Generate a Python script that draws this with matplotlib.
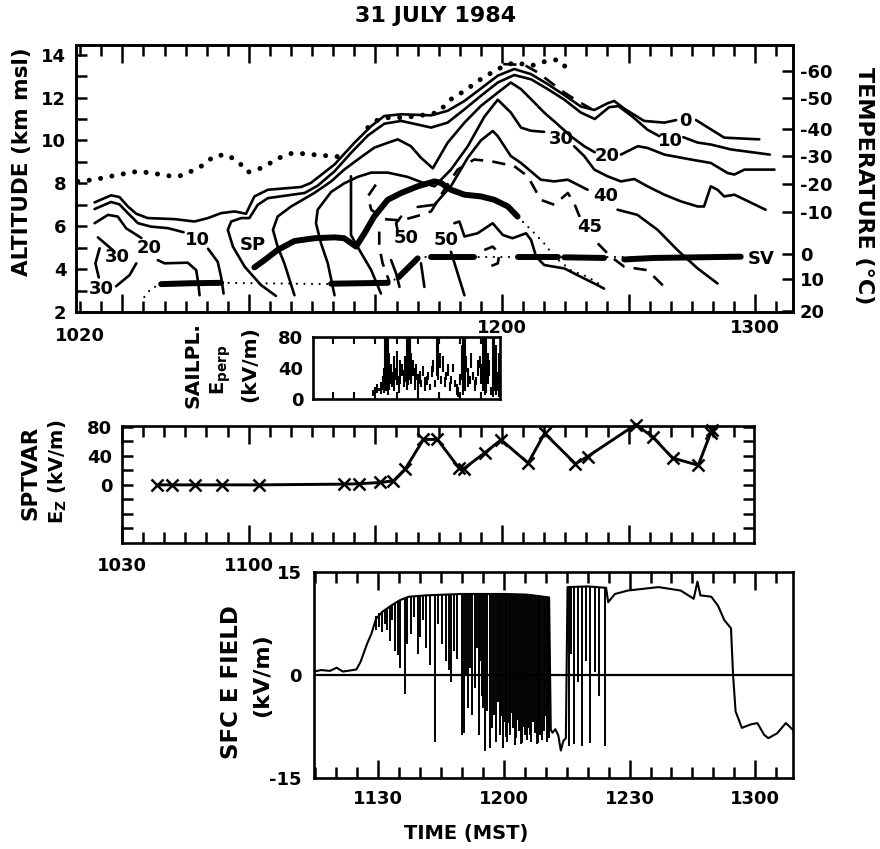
import numpy as np
import matplotlib
matplotlib.use("Agg")
import matplotlib.pyplot as plt
from matplotlib.ticker import FixedLocator, FixedFormatter, NullFormatter

plt.rcParams['font.family'] = ['DejaVu Sans']
plt.rcParams['font.weight'] = 'bold'
plt.rcParams['mathtext.default'] = 'bf'
plt.rcParams['axes.unicode_minus'] = False

# ------------------------------------------------------------------
# DATA  (time t = minutes after 1000 MST, alt = km MSL)
# ------------------------------------------------------------------
# radar reflectivity contours (dBZ), pieces as (t, alt)
c0_a = [(23.4,7.11),(27.3,7.44),(29.3,7.36),(31.3,6.92),(33.3,6.58),(36.0,6.38),(42.4,6.33),
        (47.1,6.22),(50.3,6.38),(53.4,6.61),(56.6,6.69),(59.3,6.58),(61.3,7.39),(64.5,7.70),
        (72.4,7.83),(74.7,8.02),(80.3,8.88),(85.0,9.89),(89.0,10.67),(92.1,11.14),(96.1,11.22),
        (103.2,11.17),(107.1,11.38),(111.1,11.84),(115.0,12.42),(119.0,13.02),(122.9,13.33),
        (126.9,13.09),(130.8,12.63),(134.8,12.11),(138.7,11.58),(141.9,11.42),(145.0,11.73),
        (146.6,11.84),(149.0,11.48),(153.7,10.91),(158.5,10.83),(161.3,10.95)]
c0_b = [(166.0,10.95),(169.5,10.52),(172.7,10.13),(181.0,10.05)]

c10_a = [(23.4,6.80),(27.3,7.13),(29.3,7.02),(31.3,6.61),(33.7,6.14),(36.8,5.98),(40.8,5.91),(44.5,5.72)]
c10_b = [(50.3,4.95),(52.6,4.34),(53.4,3.64),(54.0,2.86)]
c10_c = [(66.4,2.75),(62.9,3.25),(59.0,4.11),(56.2,5.05),(55.0,5.83),(55.8,6.22),(58.2,6.38),
         (60.1,6.38),(62.1,7.0),(64.5,7.31),(73.2,7.55),(76.3,7.89),(80.3,8.56),(84.2,9.42),
         (88.2,10.23),(92.1,10.78),(96.1,10.91),(103.2,10.6),(107.1,10.83),(111.1,11.45),
         (115.0,12.08),(119.0,12.70),(122.9,13.05),(126.9,12.85),(130.8,12.4),(134.8,11.9),
         (138.7,11.3),(142.0,11.0),(145.4,11.55),(147.6,11.6),(151.0,11.1),(154.5,10.5),(157.3,10.2)]
c10_d = [(163.0,10.15),(166.4,9.9),(169.5,9.81),(174.3,9.58),(183.5,9.34)]

c20_a = [(23.4,6.14),(26.6,6.53),(28.9,6.45),(30.9,5.9),(33.3,5.6),(34.5,5.45)]
c20_b = [(38.4,4.42),(40.0,4.27),(45.5,4.30),(47.5,3.95),(48.0,3.33),(48.3,2.78)]
c20_c = [(70.8,2.78),(68.4,4.27),(66.8,5.05),(65.7,5.83),(66.8,6.45),(70.0,6.92),(75.5,7.55),
         (79.5,8.09),(82.6,8.64),(85.8,9.11),(89.7,9.66),(92.9,9.89),(95.3,10.05),(98.4,9.73),
         (100.8,9.19),(103.6,8.70),(107.1,9.89),(111.1,10.83),(115.0,11.61),(119.0,12.23),
         (122.1,12.7),(124.5,12.39),(126.9,11.92),(130.0,11.30),(133.2,10.75),(136.3,10.2),
         (139.5,9.73),(142.0,9.45)]
c20_d = [(148.2,9.34),(152.2,9.73),(154.5,9.65),(158.5,9.34),(164.8,9.11),(169.5,8.95),
         (173.5,8.48),(175.1,8.41),(177.5,8.64),(184.6,8.64)]

c30_a = [(24.2,5.48),(27.7,4.89)]
c30_b = [(24.6,4.97),(23.6,4.27),(24.4,3.61)]
c30_c = [(33.3,4.27),(31.7,3.72),(28.5,3.20)]
c30_d = [(80.3,2.78),(78.7,4.27),(77.1,5.20),(75.9,6.14),(76.3,6.77),(79.5,7.6),(82.6,8.0),
         (85.8,8.3),(89.0,8.5),(92.9,8.5),(97.6,8.3),(101.6,8.0),(104.0,7.86),(107.9,8.64),
         (111.9,9.73),(115.8,11.1),(119.0,11.9),(122.1,11.3),(124.5,10.6),(126.9,10.45),(130.0,10.4)]
c30_e = [(137.1,9.73),(139.5,9.27),(141.9,8.64),(145.0,8.33),(148.2,8.09),(151.4,8.20),
         (154.5,7.86),(158.5,7.47),(162.4,7.16),(166.4,6.92),(167.9,6.92),(169.5,7.86),
         (171.1,7.70),(172.7,7.39),(175.1,7.47),(182.5,6.77)]

c40_v = [(84.2,8.33),(84.2,5.59),(86.2,4.89),(89.0,3.95),(91.3,2.86)]
c40_a = [(100.0,6.9),(104.0,7.0),(108.0,7.9),(111.9,9.2),(115.0,10.0),(117.8,10.44),(119.0,10.2),
         (122.1,9.27),(124.5,8.95),(129.2,8.17),(132.4,8.09),(135.6,8.17),(140.3,7.70)]
c40_b = [(147.4,6.77),(152.1,6.53),(156.9,5.83),(161.6,4.89),(166.4,4.03),(171.1,3.33)]

c45_a = [(90.1,7.94),(88.2,7.39),(89.0,6.77),(92.1,6.33),(96.1,6.27),(100.0,6.48),(103.2,6.69),
         (106.3,7.70),(109.5,8.64),(113.4,9.11),(117.4,9.03),(122.9,8.80),(126.1,8.33),
         (129.2,7.23),(132.4,7.0),(135.6,7.55),(137.1,7.08),(138.7,6.30)]
c45_b = [(142.7,5.20),(145.8,4.58),(149.0,4.11),(154.5,3.95),(158.5,3.17)]
c45_v = [(90.9,5.75),(90.9,5.05),(91.7,4.27),(93.3,3.41)]
top_dash = [(120.3,13.56),(125.3,13.52),(128.5,13.17),(131.6,12.70),(134.8,12.23),(137.9,11.84),(141.1,11.48)]

c50_a = [(96.1,6.45),(94.9,6.14),(95.3,5.75)]
c50_b = [(93.7,4.42),(94.9,3.80),(95.7,3.17)]
c50_c = [(100.8,4.27),(101.6,3.17)]
c50_d = [(108.7,6.14),(109.9,6.22),(111.1,5.52),(114.2,5.67),(117.8,6.14),(120.2,5.59),(122.5,5.44),
         (125.7,5.67),(126.9,5.36),(128.1,4.58),(130.0,4.19),(134.8,4.03),(138.7,3.64),(142.7,3.25),(144.2,3.09)]
c50_e = [(107.9,4.81),(111.1,2.78)]
c50_loop = [(115.8,4.89),(117.8,5.05),(119.4,4.73),(119.0,4.27),(117.0,4.11)]

# cloud-top (dotted)
cloud_top_a = [(19.4,8.09),(23.4,8.17),(27.3,8.33),(31.3,8.48),(33.7,8.56),(36.8,8.48),(39.2,8.41),
               (41.6,8.33),(43.9,8.36),(46.3,8.56),(48.7,8.80),(51.8,9.27),(54.6,9.34),(57.4,9.03),
               (59.7,8.52),(62.1,8.64),(64.5,8.88),(67.2,9.19),(70.0,9.39),(72.4,9.39),(75.1,9.34),
               (77.5,9.30),(79.9,9.27),(81.8,9.23)]
cloud_top_b = [(88.2,10.6),(90.5,10.95),(92.9,11.06),(95.3,11.06),(97.6,11.09),(100.0,11.14),
               (102.4,11.22),(104.8,11.30),(107.9,11.92),(111.1,12.31),(115.0,12.86),(119.0,13.33),
               (122.9,13.64),(126.9,13.48),(130.0,13.67),(133.2,13.77),(135.2,13.41)]

# aircraft tracks
sp_track = [(61.3,4.08),(63.7,4.42),(66.8,4.89),(70.8,5.31),(75.5,5.44),(80.3,5.48),(82.6,5.44),
            (85.4,5.05),(87.4,5.67),(89.7,6.45),(92.9,7.23),(96.1,7.55),(100.0,7.86),(104.0,8.09),
            (105.5,8.02),(107.9,7.70),(111.1,7.47),(115.0,7.39),(118.2,7.23),(121.4,6.92),(123.7,6.45)]
sp_descent = [(123.7,6.45),(126.9,5.83),(130.0,5.20),(132.4,4.58),(136.3,3.95),(140.3,3.64),(144.2,3.17)]
low_dot_a = [(35.2,2.70),(36.8,3.09),(39.2,3.30)]
low_thick_a = [(39.2,3.30),(46.0,3.34),(53.4,3.36)]
low_dot_b = [(53.4,3.36),(79.5,3.30)]
low_thick_b = [(79.5,3.32),(92.9,3.36)]
low_dot_c = [(92.9,3.36),(95.5,3.60)]
low_thick_c = [(95.5,3.62),(100.0,4.50)]
sv_dot = [(100.0,4.55),(176.6,4.55)]
sv_thick = [[(103.2,4.58),(113.4,4.58)], [(123.7,4.56),(133.2,4.56)],
            [(134.8,4.55),(144.2,4.52)], [(149.0,4.45),(156.0,4.52),(176.6,4.58)]]

contour_labels = [('0',163.6,10.9),('10',160.0,9.97),('20',145.0,9.27),('30',134.0,10.05),
                  ('40',144.6,7.39),('45',140.7,5.98),('50',106.7,5.36),('50',97.3,5.44),
                  ('10',47.9,5.36),('20',36.4,4.97),('30',28.9,4.55),('30',25.0,3.05),
                  ('SP',60.9,5.13),('SV',181.4,4.45)]

temp_labels = ['-60','-50','-40','-30','-20','-10','0','10','20']
temp_alt = [13.25,12.0,10.52,9.27,7.97,6.64,4.70,3.56,2.05]

# sailplane E_perp spikes (t, low, high), kV/m
sailplane = [(89.4,4,12),(89.9,6,16),(90.4,8,20),(90.9,10,14),(91.3,6,22),(91.7,12,30),(92.0,8,40),
             (92.3,15,80),(92.6,10,80),(92.9,5,80),(93.2,12,60),(93.6,20,45),(94.0,15,35),(94.4,10,55),
             (94.8,25,40),(95.1,18,62),(95.5,8,30),(95.9,20,50),(96.3,30,45),(96.7,15,38),(97.1,22,55),
             (97.5,12,80),(97.8,18,80),(98.1,25,80),(98.5,20,60),(98.9,30,50),(99.3,12,40),(99.7,25,45),
             (100.1,8,32),(100.5,20,36),(100.9,15,25),(101.3,30,42),(101.7,10,28),(102.1,18,30),
             (102.5,25,35),(102.9,12,20),(103.3,28,42),(103.7,35,50),(104.1,15,25),(104.5,30,80),
             (104.8,25,80),(105.2,40,60),(105.6,20,30),(106.0,35,55),(106.4,15,28),(106.8,25,35),
             (107.2,30,45),(107.6,10,22),(108.0,20,30),(108.4,35,45),(108.8,15,25),(109.2,5,20),
             (109.6,2,15),(110.0,18,32),(110.4,25,70),(110.8,5,80),(111.1,10,80),(111.5,35,55),
             (111.9,15,40),(112.3,20,30),(112.7,40,60),(113.1,25,35),(113.5,10,25),(113.9,18,28),
             (114.3,30,50),(114.7,40,55),(115.1,20,45),(115.5,10,80),(115.9,5,80),(116.2,8,80),
             (116.6,20,60),(117.0,30,50),(117.4,5,15),(117.8,2,80),(118.1,10,80),(118.5,5,70),
             (118.9,10,35),(119.3,3,60),(119.7,2,80)]

# SPTVAR balloon E_z
sptvar_t = [38.4,41.9,47.4,53.6,62.5,82.7,86.1,91.2,94.3,97.1,101.4,104.7,109.8,110.9,115.9,
            119.8,126.2,130.1,137.4,140.3,151.7,155.7,160.4,166.5,169.4,169.7]
sptvar_ez = [0,0,0,0,0,1,1.5,3.3,5.6,22,62.5,62.5,23.5,22,44,62,30,71,29,39,83,66,37,27,71,76]

# surface E field: slow envelope (t, kV/m) and discharge spikes (t, low, high)
sfc_t = [74.5,76.4,78.5,80.1,81.6,84.8,85.8,87.4,88.4,89.5,91.0,93.1,95.2,97.3,101.5,105.7,109.9,
         115.1,120.3,125.6,130.8,131.2,131.6,132.3,133.0,133.6,134.2,134.8,135.2,140.0,144.4,144.9,
         146.5,149.6,156.9,162.2,165.3,166.2,166.9,169.5,171.1,172.6,174.2,174.7,175.3,176.8,178.9,
         180.5,182.1,183.1,185.2,187.3,189.0]
sfc_e = [0.48,0.72,0.6,1.06,0.5,0.8,1.9,4.6,6.0,8.2,9.2,10.1,10.9,11.4,11.6,11.7,11.8,11.8,11.8,
         11.7,11.3,-8.0,-8.4,-7.9,-8.8,-11.0,-9.6,-9.2,12.8,12.9,12.7,10.6,11.8,12.3,12.8,12.3,11.1,
         13.6,11.6,11.4,10.1,8.0,6.8,0.0,-5.3,-7.7,-7.2,-7.0,-8.7,-9.2,-8.5,-7.0,-8.0]
sfc_spikes = [(89.5,6.5,8.6),(90.3,7.0,9.0),(91.0,6.2,9.2),(91.6,7.5,9.5),(92.2,6.5,9.8),(92.8,5.0,10.0),
              (93.4,8.0,10.2),(94.0,3.5,10.5),(94.7,2.9,10.7),(95.3,1.0,10.9),(96.3,-2.7,11.1),
              (97.0,4.5,11.3),(97.9,6.0,11.4),(98.5,8.5,11.5),(99.4,3.0,11.5),(100.0,5.5,11.6),
              (100.8,8.0,11.6),(101.4,4.0,11.6),(102.3,1.5,11.6),(103.6,-9.7,11.6),(104.4,7.5,11.7),
              (105.2,4.5,11.7),(106.2,2.0,11.7),(106.9,0.8,11.7),(107.5,-1.0,11.7),(108.2,3.5,11.7),
              (108.8,2.4,11.8),(109.9,-8.7,11.8),(110.4,-8.5,11.8),(110.9,0.0,11.8),(111.4,-4.8,11.8),
              (112.0,1.0,11.8),(112.5,-5.8,11.8),(113.2,-1.9,11.8),(113.6,4.0,11.8),(114.0,-8.7,11.8),
              (114.3,2.0,11.8),(114.7,-3.0,11.8),(115.1,-4.8,11.8),(115.6,-11.1,11.8),(116.1,-5.3,11.8),
              (116.6,-10.6,11.8),(117.1,-7.7,11.8),(117.6,-5.8,11.8),(118.2,-9.7,11.8),(118.6,-4.0,11.8),
              (119.0,-8.7,11.8),(119.4,-6.0,11.8),(119.7,-10.6,11.8),(120.2,-6.8,11.8),(120.5,-9.0,11.8),
              (120.8,-9.7,11.8),(121.2,-7.0,11.8),(121.5,-8.7,11.8),(121.9,-5.5,11.8),(122.3,-7.7,11.8),
              (122.6,-10.2,11.8),(123.0,-9.2,11.8),(123.3,-6.5,11.8),(123.6,-8.2,11.7),(124.0,-10.0,11.7),
              (124.4,-9.9,11.7),(124.8,-7.5,11.7),(125.1,-8.7,11.7),(125.5,-9.5,11.7),(125.8,-7.7,11.7),
              (126.2,-8.8,11.7),(126.6,-9.7,11.6),(127.0,-6.8,11.6),(127.4,-8.5,11.6),(127.8,-10.1,11.6),
              (128.1,-9.9,11.5),(128.4,-7.2,11.5),(128.7,-8.7,11.5),(129.1,-9.4,11.5),(129.5,-8.2,11.4),
              (129.9,-6.0,11.4),(130.2,-9.7,11.3),(130.5,-8.0,11.3),(130.8,-9.2,11.3),(135.5,-10.4,12.8),
              (136.1,3.0,12.9),(136.8,-10.1,12.9),(137.8,-1.0,12.9),(138.6,-10.4,12.9),(139.6,2.0,12.8),
              (140.6,-9.9,12.8),(141.8,0.5,12.8),(142.8,-3.0,12.7),(144.2,-10.4,12.7)]

# ------------------------------------------------------------------
W, H = 880, 849
fig = plt.figure(figsize=(W / 100, H / 100), dpi=100)


def add_ax(x0, y0, x1, y1):
    return fig.add_axes([x0 / W, 1 - y1 / H, (x1 - x0) / W, (y1 - y0) / H])


def ftext(x, y, s, **kw):
    kw.setdefault('ha', 'center')
    kw.setdefault('va', 'center')
    fig.text(x / W, 1 - y / H, s, **kw)


def style_spines(ax):
    for s in ax.spines.values():
        s.set_linewidth(1.9)


K = 'black'
TICK_FS = 13

# ---------------- top panel ----------------
ax = add_ax(76, 45, 793, 312)
ax.set_xlim(19, 189)
ax.set_ylim(2, 14.45)
style_spines(ax)


def draw(pts, **kw):
    a = np.array(pts)
    ax.plot(a[:, 0], a[:, 1], color=K, **kw)


solid = dict(lw=1.9, solid_capstyle='round', solid_joinstyle='round')
dash = dict(lw=1.9, dashes=(5, 3.5))
for p in [c0_a, c0_b, c10_a, c10_b, c10_c, c10_d, c20_a, c20_b, c20_c, c20_d,
          c30_a, c30_b, c30_c, c30_d, c30_e, c40_v, c40_a, c40_b,
          c50_a, c50_b, c50_c, c50_d, c50_e]:
    draw(p, **solid)
for p in [c45_a, c45_b, c45_v, top_dash, c50_loop]:
    draw(p, **dash)
for p in [cloud_top_a, cloud_top_b]:
    draw(p, lw=3.6, linestyle=(0, (0.01, 2.3)), dash_capstyle='round')
for p in [low_dot_a, low_dot_b, low_dot_c, sv_dot, sp_descent]:
    draw(p, lw=1.6, linestyle=(0, (0.01, 3.4)), dash_capstyle='round')
for p in [sp_track, low_thick_a, low_thick_b, low_thick_c] + sv_thick:
    draw(p, lw=4.3, solid_capstyle='round', solid_joinstyle='round')
for s, t, a in contour_labels:
    ax.text(t, a, s, ha='center', va='center', fontsize=13, fontweight='bold', zorder=5)

ax.xaxis.set_major_locator(FixedLocator([30, 60, 90, 120, 150, 180]))
ax.xaxis.set_major_formatter(FixedFormatter(['', '', '', '1200', '', '1300']))
ax.xaxis.set_minor_locator(FixedLocator(np.arange(20, 189, 5)))
ax.tick_params(axis='x', which='major', direction='in', length=13, width=1.8,
               top=True, bottom=True, labelsize=TICK_FS, pad=5)
ax.tick_params(axis='x', which='minor', direction='in', length=8, width=1.8, top=True, bottom=True)
ax.text(20, -0.055, '1020', transform=ax.get_xaxis_transform(), ha='center', va='top', fontsize=TICK_FS)
ax.yaxis.set_major_locator(FixedLocator([2, 4, 6, 8, 10, 12, 14]))
ax.yaxis.set_minor_locator(FixedLocator([3, 5, 7, 9, 11, 13]))
ax.tick_params(axis='y', which='both', direction='in', length=8, width=1.8,
               left=True, right=False, labelsize=TICK_FS, pad=7)
axr = ax.twinx()
axr.set_ylim(ax.get_ylim())
axr.yaxis.set_major_locator(FixedLocator(temp_alt))
axr.yaxis.set_major_formatter(FixedFormatter(temp_labels))
axr.tick_params(axis='y', direction='in', length=8, width=1.8, labelsize=TICK_FS, pad=5)
for s in axr.spines.values():
    s.set_linewidth(1.9)

# ---------------- sailplane panel ----------------
ax2 = add_ax(313, 337, 500, 399)
ax2.set_xlim(75.2, 119.5)
ax2.set_ylim(0, 80)
style_spines(ax2)
st, slo, shi = zip(*sailplane)
ax2.vlines(st, slo, shi, color=K, lw=1.5)
ax2.xaxis.set_major_locator(FixedLocator(np.arange(80, 119, 5)))
ax2.xaxis.set_major_formatter(NullFormatter())
ax2.tick_params(axis='x', direction='in', length=5, width=1.5, top=True, bottom=True)
ax2.yaxis.set_major_locator(FixedLocator([0, 40, 80]))
ax2.tick_params(axis='y', direction='in', length=0, labelsize=TICK_FS, pad=7)

# ---------------- SPTVAR panel ----------------
ax3 = add_ax(122, 426, 754, 543)
ax3.set_xlim(30.0, 179.7)
ax3.set_ylim(-80, 81)
style_spines(ax3)
ax3.plot(sptvar_t, sptvar_ez, color=K, lw=2.1, marker='x', ms=9, mew=1.8, clip_on=False)
ax3.xaxis.set_major_locator(FixedLocator([30, 60, 90, 120, 150]))
ax3.xaxis.set_major_formatter(FixedFormatter(['1030', '1100', '', '', '']))
ax3.xaxis.set_minor_locator(FixedLocator(np.arange(35, 180, 5)))
ax3.tick_params(axis='x', which='major', direction='in', length=13, width=1.8,
                top=True, bottom=True, labelsize=TICK_FS, pad=10)
ax3.tick_params(axis='x', which='minor', direction='in', length=8, width=1.8, top=True, bottom=True)
ax3.yaxis.set_major_locator(FixedLocator([0, 40, 80]))
ax3.yaxis.set_minor_locator(FixedLocator([-60, -40, -20, 20, 60]))
ax3.tick_params(axis='y', which='both', direction='in', length=8, width=1.8,
                left=True, right=True, labelsize=TICK_FS, pad=7)

# ---------------- surface field panel ----------------
ax4 = add_ax(314, 572, 793, 778)
ax4.set_xlim(74.7, 189.0)
ax4.set_ylim(-15, 15)
style_spines(ax4)
ax4.axhline(0, color=K, lw=1.6)
ax4.plot(sfc_t, sfc_e, color=K, lw=1.5)
ft, flo, fhi = zip(*sfc_spikes)
ax4.vlines(ft, flo, fhi, color=K, lw=1.4)
ax4.xaxis.set_major_locator(FixedLocator([90, 120, 150, 180]))
ax4.xaxis.set_major_formatter(FixedFormatter(['1130', '1200', '1230', '1300']))
ax4.xaxis.set_minor_locator(FixedLocator(np.arange(75, 189, 5)))
ax4.tick_params(axis='x', which='major', direction='in', length=13, width=1.8,
                top=True, bottom=True, labelsize=TICK_FS, pad=9)
ax4.tick_params(axis='x', which='minor', direction='in', length=8, width=1.8, top=True, bottom=True)
ax4.yaxis.set_major_locator(FixedLocator([-15, 0, 15]))
ax4.tick_params(axis='y', direction='in', length=0, labelsize=TICK_FS, pad=9)

# ---------------- text ----------------
ftext(436, 16, '31 JULY 1984', fontsize=16, fontweight='bold')
ftext(22, 162, 'ALTITUDE (km msl)', rotation=90, fontsize=15.5, fontweight='bold')
ftext(864, 186, 'TEMPERATURE (°C)', rotation=-90, fontsize=16, fontweight='bold')
ftext(193, 365, 'SAILPL.', rotation=90, fontsize=14.5, fontweight='bold')
ftext(221, 370, r'$E_{perp}$', rotation=90, fontsize=14)
ftext(250, 364, '(kV/m)', rotation=90, fontsize=14.5, fontweight='bold')
ftext(30, 473, 'SPTVAR', rotation=90, fontsize=15.5, fontweight='bold')
ftext(58, 472, r'$E_{Z}$ (kV/m)', rotation=90, fontsize=14, fontweight='bold')
ftext(231, 682, 'SFC E FIELD', rotation=90, fontsize=16.5, fontweight='bold')
ftext(262, 675, '(kV/m)', rotation=90, fontsize=16, fontweight='bold')
ftext(466, 833, 'TIME (MST)', fontsize=14, fontweight='bold')

fig.savefig('out.png', dpi=100)
